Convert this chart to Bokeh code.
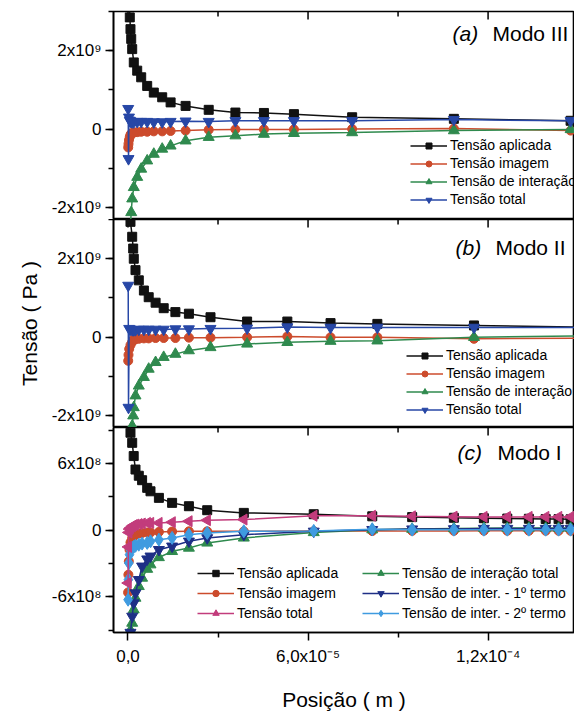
import numpy as np
from bokeh.plotting import figure
from bokeh.layouts import column
from bokeh.models import (ColumnDataSource, Range1d, FixedTicker, LinearAxis,
                          Legend, LegendItem, Label, Title)
from bokeh.embed import file_html
from bokeh.resources import INLINE

FONT = "Liberation Sans"

# ---------------- data (x in 1e-5 m) ----------------
# panel (a) Modo III, stresses in 1e9 Pa
xa = [0.007, 0.017, 0.033, 0.06, 0.083, 0.107, 0.14, 0.193, 0.307, 0.44, 0.64, 0.86,
      1.14, 1.42, 1.92, 2.69, 3.58, 4.53, 5.53, 7.47, 10.86, 14.75, 16.5]
aplicada_a = [6.0, 4.8, 3.8, 2.85, 2.55, 2.30, 2.04, 1.70, 1.49, 1.32, 1.10, 0.93,
              0.81, 0.68, 0.59, 0.49, 0.42, 0.41, 0.38, 0.30, 0.26, 0.21, 0.20]
imagem_a = [-0.47, -0.38, -0.28, -0.20, -0.15, -0.12, -0.10, -0.09, -0.08, -0.07, -0.07, -0.06,
            -0.06, -0.05, -0.04, -0.02, -0.01, -0.01, -0.01, 0.0, 0.01, -0.04, -0.03]
interacao_a = [-8.0, -5.5, -4.0, -2.9, -2.45, -2.13, -1.78, -1.49, -1.23, -1.02, -0.81, -0.64,
               -0.51, -0.43, -0.30, -0.21, -0.17, -0.13, -0.11, -0.09, -0.04, -0.01, 0.0]
total_a = [0.52, -0.76, 0.30, 0.22, 0.20, 0.19, 0.18, 0.18, 0.19, 0.19, 0.19, 0.18,
           0.18, 0.19, 0.20, 0.19, 0.21, 0.21, 0.21, 0.21, 0.24, 0.21, 0.21]

# panel (b) Modo II, stresses in 1e9 Pa
xb = [0.007, 0.017, 0.04, 0.083, 0.14, 0.173, 0.193, 0.25, 0.36, 0.53, 0.69, 0.92,
      1.19, 1.58, 2.03, 2.75, 3.97, 5.31, 6.75, 8.31, 11.53, 16.0]
aplicada_b = [6.5, 5.0, 3.8, 2.94, 2.56, 2.26, 2.0, 1.71, 1.45, 1.19, 1.02, 0.88,
              0.74, 0.64, 0.60, 0.51, 0.40, 0.40, 0.36, 0.34, 0.30, 0.25]
imagem_b = [-0.60, -0.45, -0.30, -0.20, -0.12, -0.08, -0.06, -0.05, -0.04, -0.03, -0.03, -0.02,
            -0.02, -0.02, -0.01, -0.01, 0.0, 0.02, 0.0, 0.0, -0.04, -0.02]
interacao_b = [-9.0, -6.0, -3.5, -2.6, -2.26, -2.0, -1.79, -1.49, -1.24, -1.02, -0.81, -0.64,
               -0.51, -0.43, -0.34, -0.26, -0.17, -0.13, -0.10, -0.09, 0.0, 0.04]
total_b = [1.32, -1.79, 0.22, 0.20, 0.19, 0.19, 0.19, 0.19, 0.20, 0.20, 0.20, 0.20,
           0.20, 0.21, 0.21, 0.22, 0.23, 0.26, 0.25, 0.25, 0.25, 0.25]

# panel (c) Modo I, stresses in 1e8 Pa
xc = [0.003, 0.013, 0.027, 0.05, 0.083, 0.14, 0.19, 0.25, 0.36, 0.47, 0.64, 0.75,
      1.03, 1.47, 2.03, 2.64, 3.86, 6.19, 8.14, 9.47, 10.86, 11.86, 12.64, 13.36,
      13.92, 14.35, 14.75, 15.15]
aplicada_c = [30, 20, 15, 11, 8.77, 7.86, 6.67, 5.46, 4.9, 4.5, 3.81, 3.5,
              2.91, 2.46, 2.16, 1.80, 1.56, 1.44, 1.25, 1.18, 1.12, 1.08, 1.05, 1.03,
              1.01, 1.0, 0.98, 0.97]
imagem_c = [-5.6, -4.0, -2.8, -1.75, -1.1, -0.7, -0.5, -0.4, -0.3, -0.25, -0.2, -0.2,
            -0.15, -0.12, -0.1, -0.1, -0.1, -0.08, -0.07, -0.06, -0.06, -0.05, -0.05, -0.05,
            -0.05, -0.05, -0.05, -0.05]
total_c = [-4.75, -1.5, -0.2, 0.1, 0.2, 0.35, 0.45, 0.5, 0.55, 0.6, 0.66, 0.66,
           0.66, 0.72, 0.81, 0.9, 0.96, 1.3, 1.3, 1.25, 1.22, 1.2, 1.2, 1.2,
           1.2, 1.2, 1.2, 1.2]
interacao_c = [-20, -15, -12, -10, -9.0, -8.35, -7.15, -6.1, -5.05, -4.3, -3.5, -3.1,
               -2.45, -1.9, -1.6, -1.14, -0.69, -0.2, 0.05, 0.1, 0.15, 0.18, 0.2, 0.2,
               0.2, 0.2, 0.2, 0.2]
termo1_c = [-15, -12, -10.5, -9.6, -9.2, -7.75, -6.55, -5.65, -4.45, -3.24, -2.6, -2.34,
            -1.75, -1.44, -0.99, -0.69, -0.40, -0.1, 0.05, 0.1, 0.12, 0.15, 0.15, 0.15,
            0.15, 0.15, 0.15, 0.15]
termo2_c = [-6.25, -4.45, -2.95, -2.2, -1.75, -1.6, -1.5, -1.4, -1.3, -1.2, -1.14, -1.0,
            -0.85, -0.69, -0.40, -0.24, -0.09, -0.06, 0.09, 0.05, 0.05, 0.05, 0.05, 0.05,
            0.05, 0.05, 0.05, 0.05]

x_ticks = [0.0, 6e-5, 1.2e-4]
x_minor = [3e-5, 9e-5, 1.5e-4]
x_tick_labels = {0: "0,0", 6e-5: "6,0x10\u207b\u2075", 1.2e-4: "1,2x10\u207b\u2074"}

y_ticks_ab = [-2e9, 0, 2e9]
y_minor_ab = [-2e9, -1e9, 0, 1e9, 2e9, 3e9]
y_labels_ab = {-2e9: "-2x10\u2079", 0: "0", 2e9: "2x10\u2079"}
y_ticks_c = [-6e8, 0, 6e8]
y_minor_c = [-9e8, -6e8, -3e8, 0, 3e8, 6e8, 9e8]
y_labels_c = {-6e8: "-6x10\u2078", 0: "0", 6e8: "6x10\u2078"}

C_BLACK = "#111111"
C_RED = "#cc4b2c"
C_GREEN = "#2f8a4e"
C_BLUE = "#2747a6"
C_PINK = "#c23c7c"
C_NAVY = "#1e2f86"
C_CYAN = "#3f9be0"

X_RANGE = (-4.83e-6, 1.488e-4)


def make_fig(height, top, bottom, yr, yt, ym, yl):
    p = figure(width=574, height=height, x_range=Range1d(*X_RANGE), y_range=Range1d(*yr),
               output_backend="svg", toolbar_location=None, x_axis_location=None,
               min_border_left=113, min_border_right=0, min_border_top=top,
               min_border_bottom=bottom)
    p.xgrid.visible = False
    p.ygrid.visible = False
    p.outline_line_color = "black"
    p.outline_line_width = 1.6
    ax = p.yaxis[0]
    ax.ticker = FixedTicker(ticks=yt, minor_ticks=ym)
    ax.major_label_overrides = yl
    ax.major_label_text_font = FONT
    ax.major_label_text_font_size = "17px"
    ax.major_label_text_color = "black"
    ax.major_tick_out = 8
    ax.major_tick_in = 0
    ax.minor_tick_out = 5
    ax.minor_tick_in = 0
    ax.axis_line_width = 1.6
    ax.major_tick_line_width = 1.5
    ax.minor_tick_line_width = 1.5
    ax.major_label_standoff = 4
    # inward ticks on the top border (mirrored x ticks)
    fh = height - top - bottom
    span = yr[1] - yr[0]
    p.segment(x0=x_ticks, x1=x_ticks, y0=[yr[1]] * len(x_ticks),
              y1=[yr[1] - 8 * span / fh] * len(x_ticks), line_color="black", line_width=1.5)
    p.segment(x0=x_minor, x1=x_minor, y0=[yr[1]] * len(x_minor),
              y1=[yr[1] - 5 * span / fh] * len(x_minor), line_color="black", line_width=1.5)
    return p


def series(p, x, y, scale, color, marker, size, angle=0.0):
    src = ColumnDataSource(dict(x=np.array(x) * 1e-5, y=np.array(y, dtype=float) * scale))
    ln = p.line("x", "y", source=src, line_color=color, line_width=1.5)
    sc = p.scatter("x", "y", source=src, marker=marker, size=size, fill_color=color,
                   line_color=color, angle=angle)
    return [ln, sc]


def legend(p, items, loc, gh, sp):
    lg = Legend(items=[LegendItem(label=t, renderers=r) for t, r in items], location=loc,
                glyph_width=37, glyph_height=gh, label_height=gh, spacing=sp, padding=0,
                margin=0, label_standoff=3, background_fill_alpha=0, border_line_alpha=0,
                label_text_font=FONT, label_text_font_size="14px", label_text_color="black")
    p.add_layout(lg)


def title(p, x, y, tag, name):
    p.add_layout(Label(x=x, y=y, x_units="screen", y_units="screen", text=tag,
                       text_font=FONT, text_font_size="21px", text_font_style="italic",
                       text_baseline="middle", text_color="black"))
    p.add_layout(Label(x=x + 40, y=y, x_units="screen", y_units="screen", text=name,
                       text_font=FONT, text_font_size="21px",
                       text_baseline="middle", text_color="black"))


# ---------------- panel (a) ----------------
pa = make_fig(219, 11, 0, (-2.31e9, 3.0e9), y_ticks_ab, y_minor_ab, y_labels_ab)
ra1 = series(pa, xa, aplicada_a, 1e9, C_BLACK, "square", 9)
ra2 = series(pa, xa, imagem_a, 1e9, C_RED, "circle", 9)
ra3 = series(pa, xa, interacao_a, 1e9, C_GREEN, "triangle", 11)
ra4 = series(pa, xa, total_a, 1e9, C_BLUE, "inverted_triangle", 11)
legend(pa, [("Tensão aplicada", ra1), ("Tensão imagem", ra2),
            ("Tensão de interação", ra3), ("Tensão total", ra4)], (297, 12), 15, 2)
title(pa, 339, 186, "(a)", "Modo III")

# ---------------- panel (b) ----------------
pb = make_fig(208, 0, 0, (-2.30e9, 3.0e9), y_ticks_ab, y_minor_ab, y_labels_ab)
rb1 = series(pb, xb, aplicada_b, 1e9, C_BLACK, "square", 9)
rb2 = series(pb, xb, imagem_b, 1e9, C_RED, "circle", 9)
rb3 = series(pb, xb, interacao_b, 1e9, C_GREEN, "triangle", 11)
rb4 = series(pb, xb, total_b, 1e9, C_BLUE, "inverted_triangle", 11)
legend(pb, [("Tensão aplicada", rb1), ("Tensão imagem", rb2),
            ("Tensão de interação", rb3), ("Tensão total", rb4)], (293, 10), 15, 2)
title(pb, 342, 180, "(b)", "Modo II")
pb.add_layout(Title(text="Tensão ( Pa )", align="center", offset=-17, standoff=16,
                    text_font=FONT, text_font_size="21px", text_font_style="normal",
                    text_color="black"), "left")

# ---------------- panel (c) ----------------
pc = make_fig(286, 0, 80, (-9.2e8, 9.24e8), y_ticks_c, y_minor_c, y_labels_c)
rc1 = series(pc, xc, aplicada_c, 1e8, C_BLACK, "square", 9)
rc2 = series(pc, xc, imagem_c, 1e8, C_RED, "circle", 9)
rc4 = series(pc, xc, interacao_c, 1e8, C_GREEN, "triangle", 11)
rc5 = series(pc, xc, termo1_c, 1e8, C_NAVY, "inverted_triangle", 11)
rc6 = series(pc, xc, termo2_c, 1e8, C_CYAN, "diamond", 13)
rc3 = series(pc, xc, total_c, 1e8, C_PINK, "triangle", 11, angle=np.pi / 2)
legend(pc, [("Tensão aplicada", rc1), ("Tensão imagem", rc2), ("Tensão total", rc3)],
       (84, 11), 16, 4)
legend(pc, [("Tensão de interação total", rc4), ("Tensão de inter. - 1º termo", rc5),
            ("Tensão de inter. - 2º termo", rc6)], (249, 11), 16, 4)
title(pc, 344, 180, "(c)", "Modo I")

bot = LinearAxis(ticker=FixedTicker(ticks=x_ticks, minor_ticks=x_minor),
                 major_label_overrides=x_tick_labels,
                 major_tick_out=8, major_tick_in=0, minor_tick_out=5, minor_tick_in=0,
                 axis_line_width=1.6, major_tick_line_width=1.5, minor_tick_line_width=1.5,
                 major_label_text_font=FONT, major_label_text_font_size="17px",
                 major_label_text_color="black", major_label_standoff=6,
                 axis_label="Posição ( m )", axis_label_text_font=FONT,
                 axis_label_text_font_size="21px", axis_label_text_font_style="normal",
                 axis_label_text_color="black", axis_label_standoff=19)
pc.add_layout(bot, "below")

layout = column(pa, pb, pc, spacing=0)
open("out.html", "w").write(file_html(layout, INLINE))
